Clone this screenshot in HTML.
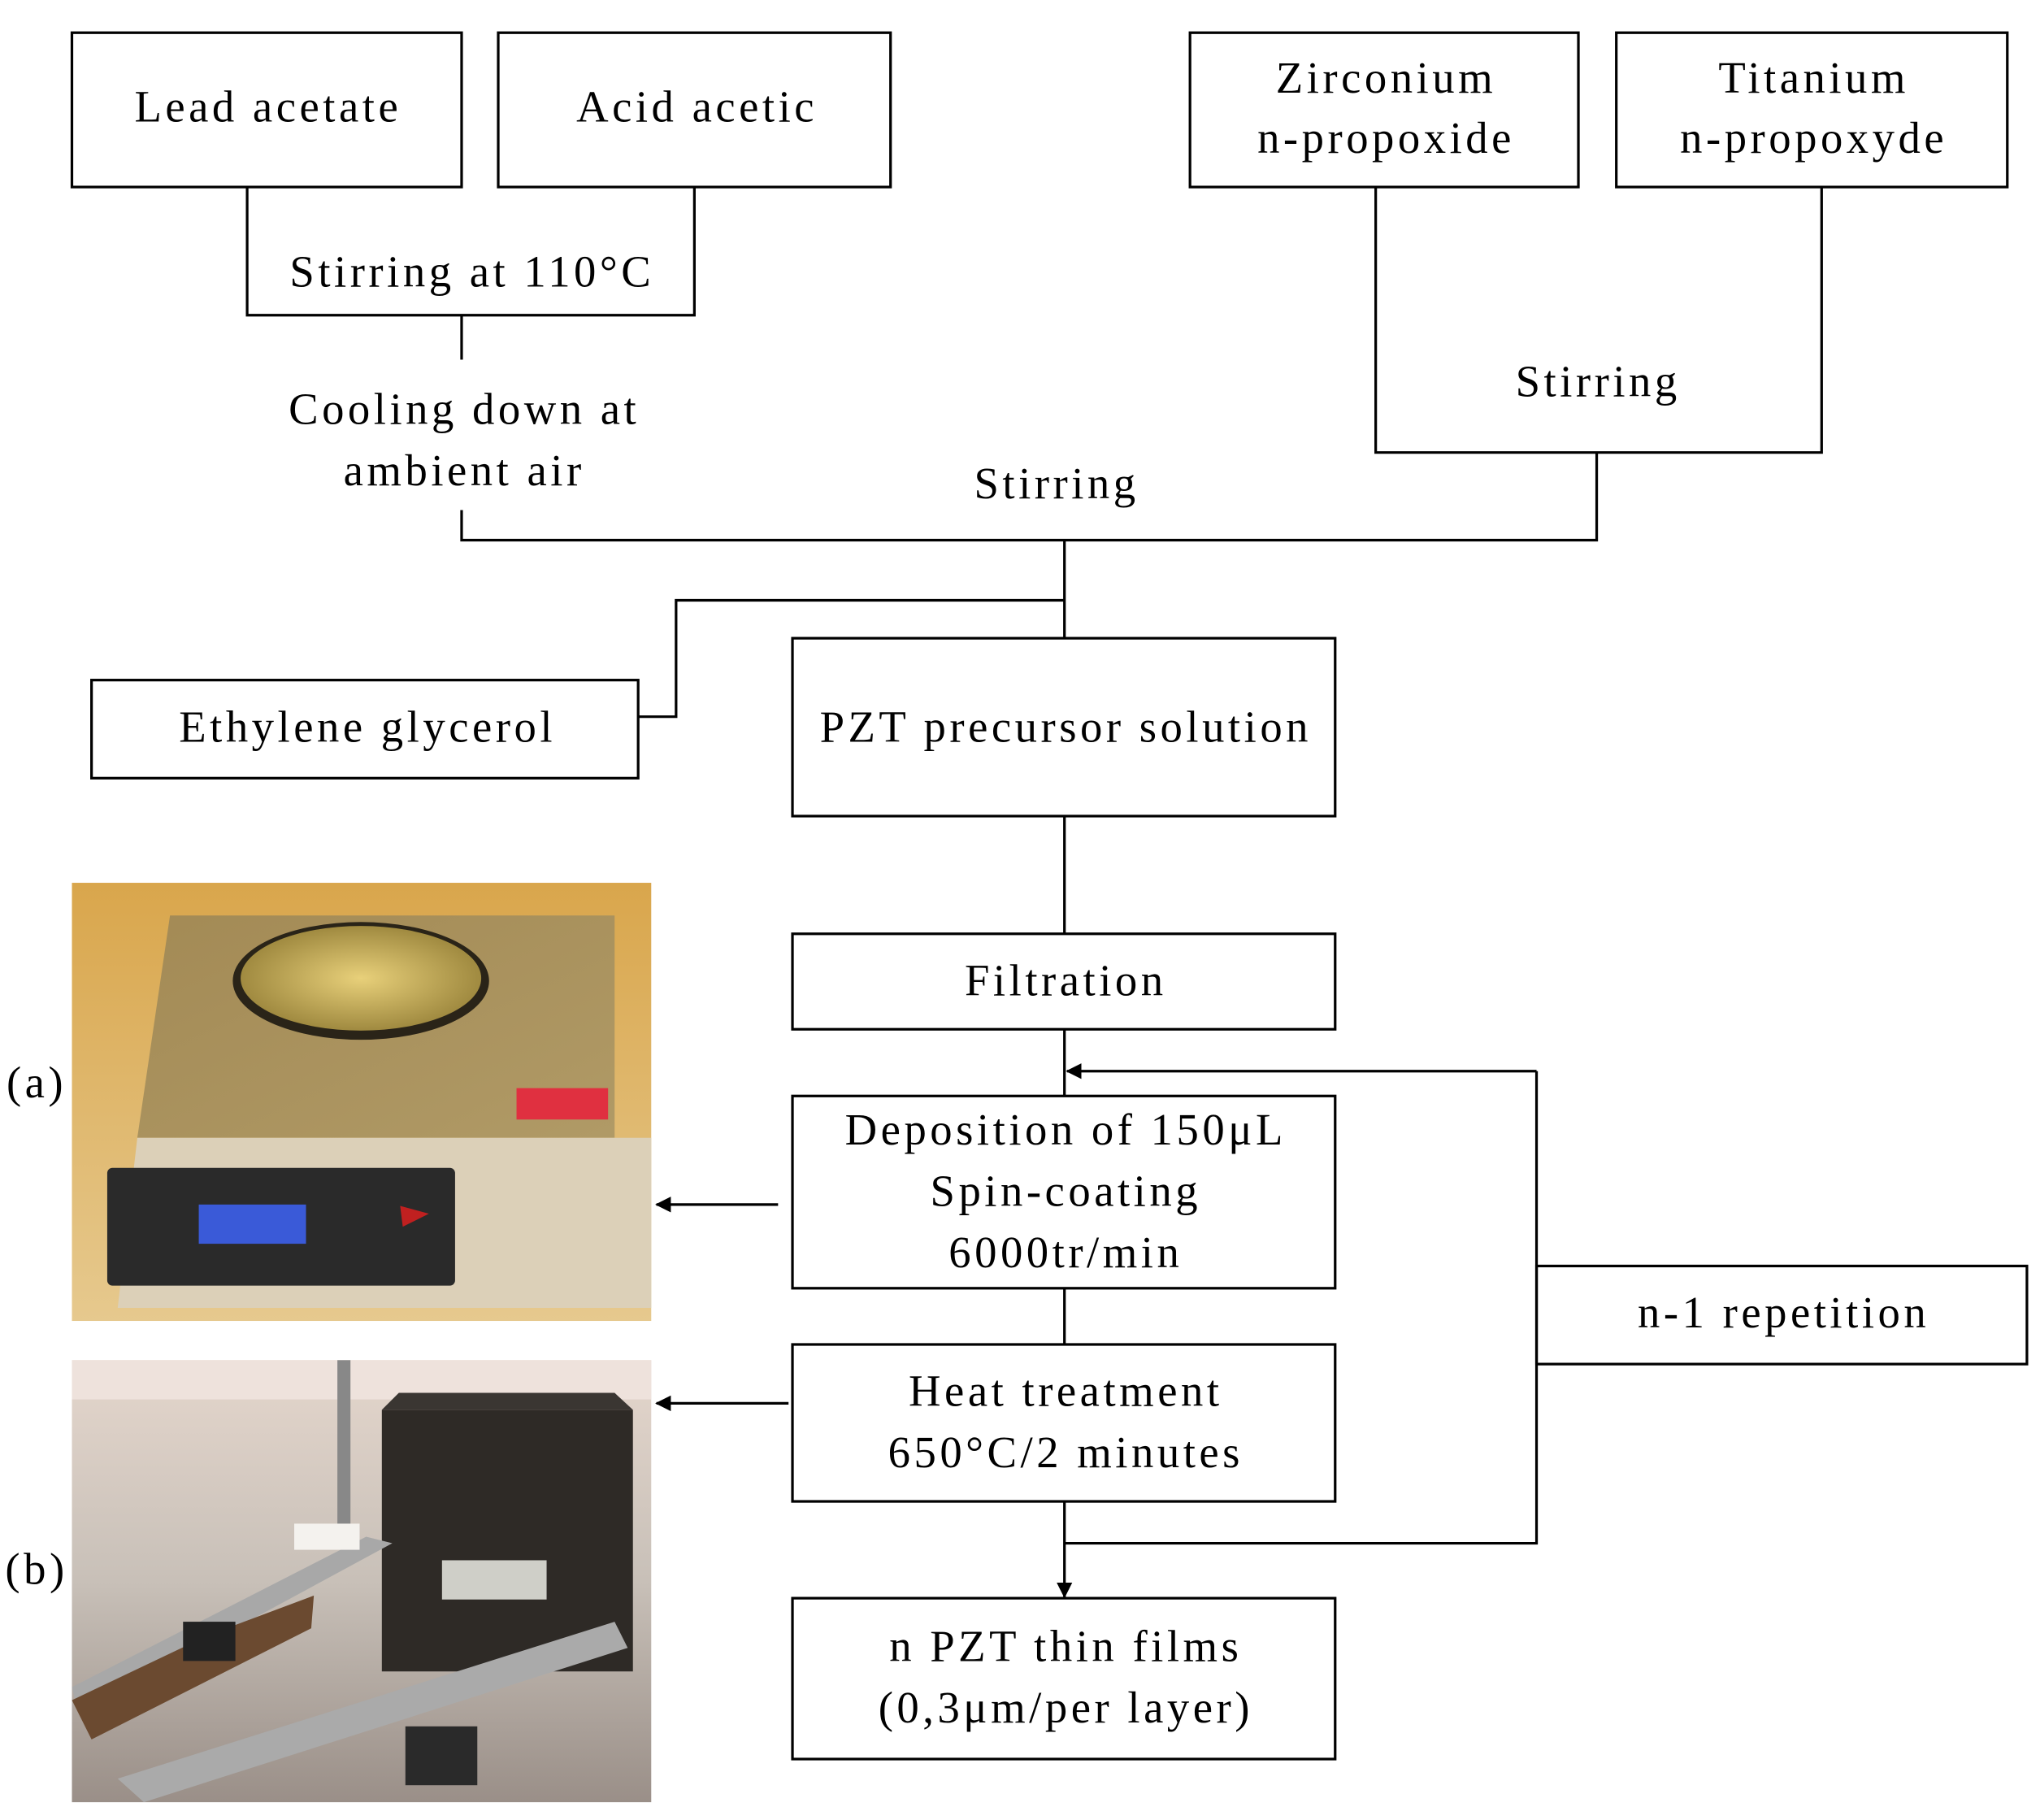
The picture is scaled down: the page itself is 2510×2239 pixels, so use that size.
<!DOCTYPE html>
<html><head><style>html,body{margin:0;padding:0;background:#fff}svg{display:block}</style></head>
<body>
<svg width="2510" height="2239" viewBox="0 0 1560 1391.6" preserveAspectRatio="none" xmlns="http://www.w3.org/2000/svg">
<defs>
<marker id="ah" markerWidth="12" markerHeight="12" refX="11" refY="6" orient="auto" markerUnits="userSpaceOnUse"><path d="M0,0 L12,6 L0,12 z" fill="#000"/></marker>
<linearGradient id="ga" x1="0" y1="0" x2="0" y2="1"><stop offset="0" stop-color="#d9a64c"/><stop offset="1" stop-color="#e6c98e"/></linearGradient>
<linearGradient id="top" x1="0" y1="0" x2="1" y2="1"><stop offset="0" stop-color="#a38a55"/><stop offset="1" stop-color="#b09a66"/></linearGradient>
<radialGradient id="foil"><stop offset="0" stop-color="#e8d07a"/><stop offset="1" stop-color="#a08a40"/></radialGradient>
<linearGradient id="gb" x1="0" y1="0" x2="0" y2="1"><stop offset="0" stop-color="#e4d6cc"/><stop offset="0.5" stop-color="#c8c0b8"/><stop offset="1" stop-color="#9a8f88"/></linearGradient>
</defs>
<g fill="none" stroke="#000" stroke-width="2">
<rect x="55" y="25" width="298" height="118"/>
<rect x="381" y="25" width="300" height="118"/>
<rect x="910" y="25" width="297" height="118"/>
<rect x="1236" y="25" width="299" height="118"/>
<polyline points="189,143 189,241 531,241 531,143"/>
<line x1="353" y1="241" x2="353" y2="275"/>
<polyline points="353,390 353,413 1221,413 1221,346"/>
<polyline points="1052,143 1052,346 1393,346 1393,143"/>
<line x1="814" y1="413" x2="814" y2="488"/>
<polyline points="814,459 517,459 517,548 488,548"/>
<rect x="70" y="520" width="418" height="75"/>
<rect x="606" y="488" width="415" height="136"/>
<line x1="814" y1="624" x2="814" y2="714"/>
<rect x="606" y="714" width="415" height="73"/>
<line x1="814" y1="787" x2="814" y2="838"/>
<polyline points="1175,819 1175,1180 814,1180" />
<line x1="1175" y1="819" x2="816" y2="819" marker-end="url(#ah)"/>
<rect x="606" y="838" width="415" height="147"/>
<line x1="814" y1="985" x2="814" y2="1028"/>
<rect x="606" y="1028" width="415" height="120"/>
<line x1="814" y1="1148" x2="814" y2="1221" marker-end="url(#ah)"/>
<rect x="606" y="1222" width="415" height="123"/>
<rect x="1175" y="968" width="375" height="75"/>
<line x1="595" y1="921" x2="502" y2="921" marker-end="url(#ah)"/>
<line x1="603" y1="1073" x2="502" y2="1073" marker-end="url(#ah)"/>
</g>
<!-- photo a -->
<rect x="55" y="675" width="443" height="335" fill="url(#ga)"/>
<polygon points="130,700 470,700 470,870 105,870" fill="url(#top)"/>
<polygon points="105,870 498,870 498,1000 90,1000" fill="#dcd0b8"/>
<ellipse cx="276" cy="750" rx="98" ry="45" fill="#2a2418"/>
<ellipse cx="276" cy="748" rx="92" ry="40" fill="url(#foil)"/>
<rect x="82" y="893" width="266" height="90" rx="4" fill="#2a2a2a"/>
<rect x="152" y="921" width="82" height="30" fill="#3a5ad8"/>
<polygon points="306,922 328,928 308,938" fill="#c02020"/>
<rect x="395" y="832" width="70" height="24" fill="#e03040"/>
<!-- photo b -->
<rect x="55" y="1040" width="443" height="338" fill="url(#gb)"/>
<rect x="55" y="1040" width="443" height="30" fill="#eee2dc"/>
<rect x="258" y="1040" width="10" height="140" fill="#888"/>
<rect x="292" y="1078" width="192" height="200" fill="#2e2a26"/>
<polygon points="292,1078 484,1078 470,1065 305,1065" fill="#3a3632"/>
<rect x="338" y="1193" width="80" height="30" fill="#cfcfc8"/>
<polygon points="55,1290 280,1175 300,1180 60,1310" fill="#a8a8a8"/>
<polygon points="55,1300 160,1250 240,1220 238,1245 70,1330" fill="#6b4a30"/>
<polygon points="90,1360 470,1240 480,1260 110,1378" fill="#aaa"/>
<rect x="225" y="1165" width="50" height="20" fill="#f4f2ee"/>
<rect x="310" y="1320" width="55" height="45" fill="#2a2a2a"/>
<rect x="140" y="1240" width="40" height="30" fill="#222"/>
<g font-family="'Liberation Serif', serif" font-size="34" letter-spacing="2.8" text-anchor="middle" fill="#000">
<text x="205" y="93">Lead acetate</text>
<text x="533" y="93">Acid acetic</text>
<text x="1060" y="71">Zirconium</text>
<text x="1060" y="117">n-propoxide</text>
<text x="1387" y="71">Titanium</text>
<text x="1387" y="117">n-propoxyde</text>
<text x="361" y="219">Stirring at 110°C</text>
<text x="355" y="324">Cooling down at</text>
<text x="355" y="371">ambient air</text>
<text x="1222" y="303">Stirring</text>
<text x="808" y="381">Stirring</text>
<text x="281" y="567">Ethylene glycerol</text>
<text x="815" y="567">PZT precursor solution</text>
<text x="815" y="761">Filtration</text>
<text x="815" y="875">Deposition of 150μL</text>
<text x="815" y="922">Spin-coating</text>
<text x="815" y="969">6000tr/min</text>
<text x="815" y="1075">Heat treatment</text>
<text x="815" y="1122">650°C/2 minutes</text>
<text x="815" y="1270">n PZT thin films</text>
<text x="815" y="1317">(0,3μm/per layer)</text>
<text x="1364" y="1015">n-1 repetition</text>
<text x="28" y="839">(a)</text>
<text x="28" y="1211">(b)</text>
</g>
</svg>
</body></html>
